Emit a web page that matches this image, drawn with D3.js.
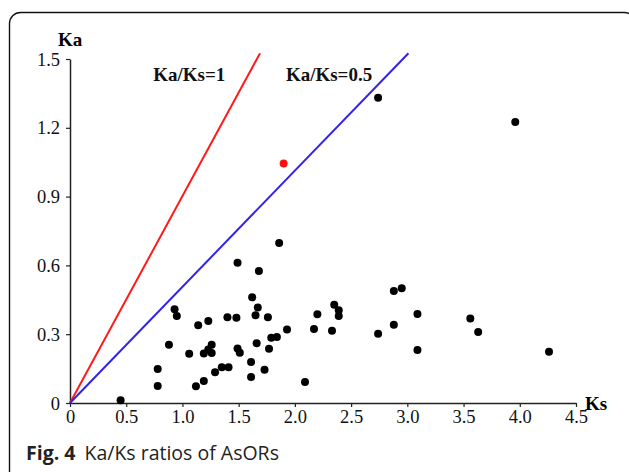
<!DOCTYPE html>
<html>
<head>
<meta charset="utf-8">
<script src="https://cdn.jsdelivr.net/npm/d3@7"></script>
<style>
  body { margin: 0; background: #fff; }
</style>
</head>
<body>
<div class="chart"></div>
<script>
//data
const ks = [0.45, 0.78, 0.78, 0.88, 0.93, 0.95, 1.06, 1.12, 1.14, 1.19, 1.19, 1.23, 1.23, 1.26, 1.26,
    1.29, 1.35, 1.40, 1.41, 1.48, 1.49, 1.49, 1.51, 1.61, 1.61, 1.62, 1.65, 1.67, 1.66, 1.68,
    1.73, 1.76, 1.77, 1.79, 1.84, 1.86, 1.93, 2.09, 2.17, 2.20, 2.33, 2.35, 2.39, 2.39, 2.74,
    2.74, 2.88, 2.95, 2.88, 3.09, 3.09, 3.56, 3.63, 4.26, 3.96];
const ka = [0.012, 0.148, 0.074, 0.254, 0.409, 0.379, 0.215, 0.073, 0.339, 0.096, 0.216, 0.358, 0.233, 0.254, 0.218,
    0.134, 0.156, 0.374, 0.156, 0.372, 0.612, 0.238, 0.219, 0.179, 0.113, 0.461, 0.383, 0.416, 0.261, 0.576,
    0.145, 0.374, 0.237, 0.285, 0.288, 0.698, 0.320, 0.092, 0.323, 0.387, 0.315, 0.428, 0.404, 0.379, 0.302,
    1.331, 0.488, 0.500, 0.341, 0.388, 0.231, 0.369, 0.310, 0.224, 1.225];
const redPoint = {ks: 1.90, ka: 1.044};

//ratio reference lines, end points as drawn
const ratioNames = ["Ka/Ks=1", "Ka/Ks=0.5"];
const ratioEnds = [[1.69, 1.525], [3.01, 1.525]];
const ratioColors = ["#ff1a1a", "#3322ee"];

const xTicks = [0, 0.5, 1.0, 1.5, 2.0, 2.5, 3.0, 3.5, 4.0, 4.5];
const xTickLabels = ["0", "0.5", "1.0", "1.5", "2.0", "2.5", "3.0", "3.5", "4.0", "4.5"];
const yTicks = [0, 0.3, 0.6, 0.9, 1.2, 1.5];
const yTickLabels = ["0", "0.3", "0.6", "0.9", "1.2", "1.5"];

const width = 629, height = 472;
const plot = ({left: 70, right: 576, top: 59, bottom: 403});
const serif = "'Liberation Serif', 'Times New Roman', serif";

const svg = d3.select('.chart')
    .append('svg')
    .attr('width', width)
    .attr('height', height);

//frame round the figure, cut at the right and bottom
svg.append('rect')
    .attr('x', 9.5)
    .attr('y', 12.5)
    .attr('width', 626)
    .attr('height', 520)
    .attr('rx', 11)
    .attr('fill', 'none')
    .attr('stroke', '#111')
    .attr('stroke-width', 1.4);

const xScale = d3.scaleLinear()
    .domain([0, 4.5])
    .range([plot.left, plot.right]);

const yScale = d3.scaleLinear()
    .domain([0, 1.5])
    .range([plot.bottom, plot.top]);

//axes
const xAxis = g => g
    .attr("transform", `translate(0,${plot.bottom})`)
    .call(d3.axisBottom(xScale).tickValues(xTicks).tickSize(4).tickSizeOuter(0)
        .tickFormat((d, i) => xTickLabels[i]))
    .call(g => g.select(".domain").attr("stroke", "#222").attr("stroke-width", 1.5))
    .call(g => g.selectAll(".tick line").attr("stroke", "#222").attr("stroke-width", 1.2))
    .call(g => g.selectAll(".tick text")
        .attr("font-family", serif)
        .attr("font-size", 18.5)
        .attr("fill", "#111")
        .attr("y", 7)
        .attr("dy", "0.71em"));

const yAxis = g => g
    .attr("transform", `translate(${plot.left},0)`)
    .call(d3.axisLeft(yScale).tickValues(yTicks).tickSize(4).tickSizeOuter(0)
        .tickFormat((d, i) => yTickLabels[i]))
    .call(g => g.select(".domain").attr("stroke", "#222").attr("stroke-width", 1.5))
    .call(g => g.selectAll(".tick line").attr("stroke", "#222").attr("stroke-width", 1.2))
    .call(g => g.selectAll(".tick text")
        .attr("font-family", serif)
        .attr("font-size", 18.5)
        .attr("fill", "#111")
        .attr("x", -10)
        .attr("dy", "0.33em"));

svg.append('g').call(xAxis);
svg.append('g').call(yAxis);

//axis names
svg.append("text")
    .attr('x', 58)
    .attr('y', 46)
    .attr('font-family', serif)
    .attr('font-weight', 'bold')
    .attr('font-size', 19)
    .text("Ka");

svg.append("text")
    .attr('x', 585)
    .attr('y', 410)
    .attr('font-family', serif)
    .attr('font-weight', 'bold')
    .attr('font-size', 19)
    .text("Ks");

//ratio lines
svg.selectAll('line.ratio')
    .data(ratioEnds)
    .join('line')
    .attr('class', 'ratio')
    .attr('x1', xScale(0))
    .attr('y1', yScale(0))
    .attr('x2', d => xScale(d[0]))
    .attr('y2', d => yScale(d[1]))
    .attr('stroke', (d, i) => ratioColors[i])
    .attr('stroke-width', 2);

//line labels
const labelPos = [[0.74, 1.40], [1.92, 1.40]];
svg.selectAll('text.ratio')
    .data(ratioNames)
    .join('text')
    .attr('class', 'ratio')
    .attr('x', (d, i) => xScale(labelPos[i][0]))
    .attr('y', (d, i) => yScale(labelPos[i][1]) - 0.5)
    .attr('font-family', serif)
    .attr('font-weight', 'bold')
    .attr('font-size', 19)
    .attr('fill', '#111')
    .text(d => d);

//points
svg.selectAll('circle.pt')
    .data(d3.zip(ks, ka))
    .join('circle')
    .attr('class', 'pt')
    .attr('cx', d => xScale(d[0]))
    .attr('cy', d => yScale(d[1]))
    .attr('r', 4)
    .attr('fill', '#000');

svg.append('circle')
    .attr('cx', xScale(redPoint.ks))
    .attr('cy', yScale(redPoint.ka))
    .attr('r', 4)
    .attr('fill', '#ff1010');

//caption
const cap = svg.append("text")
    .attr('x', 26)
    .attr('y', 460)
    .attr('font-family', "'Open Sans', 'Noto Sans', sans-serif")
    .attr('font-size', 19.5)
    .attr('fill', '#222');
cap.append('tspan')
    .attr('font-weight', 'bold')
    .text("Fig. 4");
cap.append('tspan')
    .attr('dx', 9)
    .text("Ka/Ks ratios of AsORs");
</script>
</body>
</html>
